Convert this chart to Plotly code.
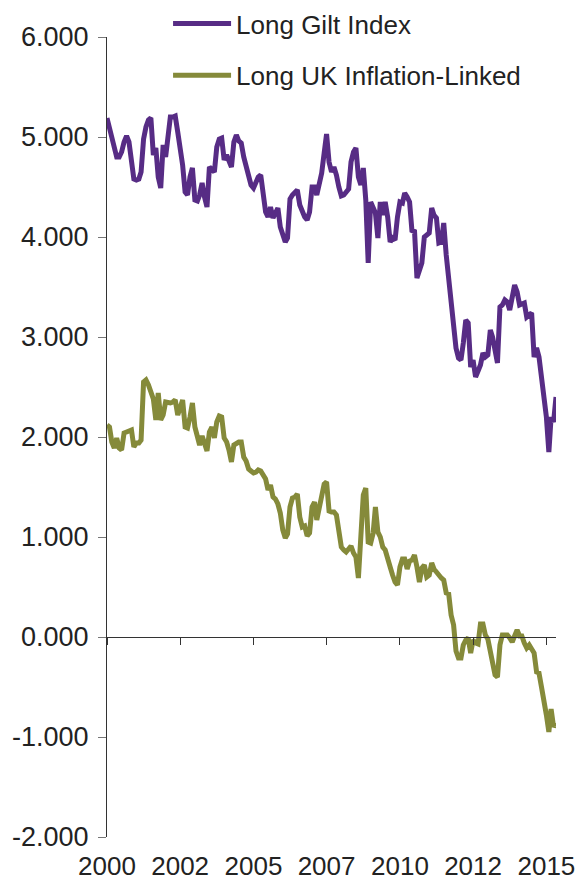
import pandas as pd
import plotly.graph_objects as go

# Monthly yields (%), January 2000 onwards
long_gilt = [
    5.19, 5.08, 4.98, 4.86, 4.80, 4.80, 4.85, 4.95, 5.01, 4.95,
    4.70, 4.58, 4.57, 4.58, 4.65, 4.98, 5.10, 5.17, 5.19, 4.82,
    4.89, 4.60, 4.49, 4.92, 4.80, 5.05, 5.20, 5.20, 5.21, 5.05,
    4.90, 4.72, 4.45, 4.42, 4.60, 4.69, 4.37, 4.36, 4.42, 4.54,
    4.40, 4.30, 4.70, 4.68, 4.65, 4.90, 4.98, 4.99, 4.77, 4.82,
    4.75, 4.70, 4.95, 5.02, 4.96, 4.94, 4.80, 4.72, 4.64, 4.52,
    4.49, 4.57, 4.60, 4.62, 4.45, 4.25, 4.20, 4.30, 4.19, 4.24,
    4.29, 4.10, 4.03, 3.95, 3.99, 4.38, 4.42, 4.44, 4.47, 4.32,
    4.25, 4.20, 4.17, 4.25, 4.50, 4.50, 4.42, 4.55, 4.64, 4.84,
    5.03, 4.75, 4.65, 4.70, 4.62, 4.50, 4.41, 4.42, 4.45, 4.48,
    4.75, 4.85, 4.89, 4.60, 4.52, 4.69, 4.37, 3.74, 4.35, 4.30,
    4.24, 3.99, 4.35, 4.22, 4.35, 4.20, 3.95, 3.99, 3.97, 4.20,
    4.35, 4.34, 4.44, 4.40, 4.35, 4.05, 4.07, 3.59, 3.65, 3.74,
    4.00, 4.02, 4.04, 4.29, 4.22, 4.19, 3.94, 3.95, 4.14, 3.82,
    3.60, 3.30, 3.15, 2.89, 2.79, 2.77, 2.94, 3.17, 3.14, 2.70,
    2.77, 2.60, 2.66, 2.72, 2.84, 2.80, 2.82, 3.07, 3.00, 2.88,
    2.74, 3.30, 3.32, 3.37, 3.35, 3.27, 3.40, 3.52, 3.45, 3.32,
    3.33, 3.34, 3.20, 3.22, 3.24, 2.80, 2.89, 2.80, 2.60, 2.47,
    2.20, 1.85, 2.20, 2.15, 2.40,
]

long_linker = [
    2.12, 2.10, 1.95, 1.89, 1.99, 1.89, 1.87, 2.04, 2.05, 2.06,
    2.07, 1.90, 1.94, 1.94, 1.97, 2.55, 2.57, 2.52, 2.46, 2.38,
    2.17, 2.44, 2.17, 2.22, 2.35, 2.34, 2.34, 2.35, 2.37, 2.22,
    2.28, 2.37, 2.10, 2.09, 2.20, 2.34, 2.10, 2.02, 1.92, 2.01,
    1.95, 1.86, 2.05, 2.10, 1.99, 2.15, 2.21, 2.20, 1.99, 1.95,
    1.87, 1.75, 1.92, 1.94, 1.95, 1.95, 1.80, 1.76, 1.68, 1.66,
    1.64, 1.65, 1.67, 1.66, 1.61, 1.58, 1.47, 1.52, 1.40, 1.38,
    1.33, 1.24, 1.07, 0.99, 1.03, 1.30, 1.39, 1.40, 1.43, 1.20,
    1.10, 1.11, 1.01, 1.04, 1.30, 1.35, 1.17, 1.30, 1.42, 1.53,
    1.55, 1.26, 1.25, 1.25, 1.22, 1.02, 0.90, 0.87, 0.85, 0.88,
    0.91, 0.84, 0.80, 0.59, 1.00, 1.42, 1.49, 0.95, 0.94, 1.04,
    1.30, 1.05, 1.00, 0.90, 0.87, 0.80, 0.70, 0.62, 0.55, 0.52,
    0.70, 0.78, 0.78, 0.68, 0.76, 0.77, 0.82, 0.70, 0.55, 0.69,
    0.72, 0.60, 0.62, 0.74, 0.68, 0.65, 0.61, 0.59, 0.57, 0.44,
    0.43, 0.22, 0.12, -0.14, -0.21, -0.21, -0.08, -0.03, -0.01, -0.16,
    -0.03, -0.06, -0.07, 0.13, 0.13, 0.02, -0.02, -0.16, -0.22, -0.38,
    -0.40, -0.08, 0.02, 0.02, 0.02, -0.01, -0.05, 0.01, 0.07, 0.01,
    0.01, -0.06, -0.11, -0.08, -0.11, -0.16, -0.35, -0.36, -0.50, -0.68,
    -0.78, -0.95, -0.72, -0.90, -0.86,
]

series_names = ["Long Gilt Index", "Long UK Inflation-Linked"]
series_colors = ["#572C85", "#858A3A"]

year_ticks = ["2000-01-01", "2002-07-01", "2005-01-01", "2007-07-01",
              "2010-01-01", "2012-07-01", "2015-01-01"]
year_labels = ["2000", "2002", "2005", "2007", "2010", "2012", "2015"]

y_ticks = [-2, -1, 0, 1, 2, 3, 4, 5, 6]
y_labels = ["-2.000", "-1.000", "0.000", "1.000", "2.000",
            "3.000", "4.000", "5.000", "6.000"]

gilt_dates = pd.date_range("2000-01-01", periods=len(long_gilt), freq="MS")
linker_dates = pd.date_range("2000-01-01", periods=len(long_linker), freq="MS")

FONT = "Liberation Sans, Arial, sans-serif"
TEXT = "#222222"

fig = go.Figure()
fig.add_trace(go.Scatter(
    x=gilt_dates, y=long_gilt, mode="lines", name=series_names[0],
    legendgroup="g1", line=dict(color=series_colors[0], width=5),
    xaxis="x2", yaxis="y",
))
fig.add_trace(go.Scatter(
    x=linker_dates, y=long_linker, mode="lines", name=series_names[1],
    legendgroup="g2", line=dict(color=series_colors[1], width=5),
    xaxis="x", yaxis="y",
))

x_range = [gilt_dates[0], gilt_dates[-1]]

fig.update_layout(
    width=581, height=882,
    margin=dict(l=107, r=25, t=37, b=45, autoexpand=False),
    paper_bgcolor="white", plot_bgcolor="white",
    font=dict(family=FONT, size=26, color=TEXT),
    showlegend=True,
    legend=dict(
        x=0.136, y=1.004, xanchor="left", yanchor="top", yref="container",
        font=dict(family=FONT, size=26, color=TEXT),
        traceorder="grouped", tracegroupgap=15,
        itemwidth=58, bgcolor="rgba(0,0,0,0)",
    ),
    xaxis=dict(
        type="date", range=x_range,
        tickvals=year_ticks, ticktext=year_labels,
        showline=False, ticks="", showgrid=False, zeroline=False,
        ticklabelstandoff=11,
        tickfont=dict(family=FONT, size=26, color=TEXT),
    ),
    xaxis2=dict(
        type="date", matches="x", overlaying="x",
        anchor="free", position=0.25, side="bottom",
        tickvals=year_ticks, showticklabels=False,
        showline=True, linecolor="#333333", linewidth=1,
        ticks="outside", ticklen=7, tickcolor="#333333",
        showgrid=False, zeroline=False,
    ),
    yaxis=dict(
        range=[-2, 6], tickvals=y_ticks, ticktext=y_labels,
        showline=True, linecolor="#333333", linewidth=1,
        ticks="outside", ticklen=8, tickcolor="#777777",
        ticklabelstandoff=4,
        showgrid=False, zeroline=False,
        tickfont=dict(family=FONT, size=27, color=TEXT),
    ),
)

fig.write_html("out.html")
